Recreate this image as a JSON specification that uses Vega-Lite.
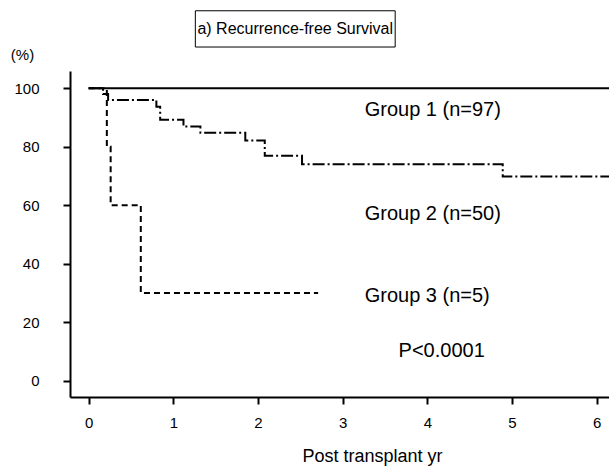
{
  "$schema": "https://vega.github.io/schema/vega-lite/v6.json",
  "width": 539,
  "height": 326,
  "autosize": "none",
  "padding": {"left": 70, "top": 71, "right": 0, "bottom": 74},
  "background": "white",
  "config": {
    "view": {"stroke": null},
    "font": "Liberation Sans",
    "axis": {"labelFont": "Liberation Sans", "titleFont": "Liberation Sans", "labelColor": "black", "titleColor": "black", "domainColor": "black", "tickColor": "black", "grid": false}
  },
  "datasets": {
    "curves": [
      {"group": "Group 1", "t": 0, "s": 100},
      {"group": "Group 1", "t": 6.145, "s": 100},
      {"group": "Group 2", "t": 0, "s": 100},
      {"group": "Group 2", "t": 0.17, "s": 98},
      {"group": "Group 2", "t": 0.23, "s": 96},
      {"group": "Group 2", "t": 0.8, "s": 93.7},
      {"group": "Group 2", "t": 0.845, "s": 89.2},
      {"group": "Group 2", "t": 1.12, "s": 86.9},
      {"group": "Group 2", "t": 1.32, "s": 84.8},
      {"group": "Group 2", "t": 1.85, "s": 82.1},
      {"group": "Group 2", "t": 2.08, "s": 76.9},
      {"group": "Group 2", "t": 2.52, "s": 74.0},
      {"group": "Group 2", "t": 4.89, "s": 69.8},
      {"group": "Group 2", "t": 6.145, "s": 69.8},
      {"group": "Group 3", "t": 0, "s": 100},
      {"group": "Group 3", "t": 0.215, "s": 80},
      {"group": "Group 3", "t": 0.26, "s": 60},
      {"group": "Group 3", "t": 0.616, "s": 30},
      {"group": "Group 3", "t": 2.71, "s": 30}
    ],
    "notes": [
      {"label": "Group 1 (n=97)", "t": 3.26, "s": 92.5},
      {"label": "Group 2 (n=50)", "t": 3.26, "s": 57},
      {"label": "Group 3 (n=5)", "t": 3.26, "s": 29},
      {"label": "P<0.0001", "t": 3.66, "s": 10}
    ],
    "titlebox": [
      {"label": "a) Recurrence-free Survival", "t1": 1.26, "t2": 3.62, "s1": 114.1, "s2": 126.5, "tm": 2.44, "sm": 120.2}
    ]
  },
  "layer": [
    {
      "data": {"name": "curves"},
      "transform": [{"filter": "datum.group === 'Group 1'"}],
      "mark": {"type": "line", "interpolate": "step-after", "color": "black", "strokeWidth": 2},
      "encoding": {
        "x": {"field": "t", "type": "quantitative", "scale": {"domain": [-0.22, 6.145], "nice": false, "zero": false},
          "axis": {"values": [0, 1, 2, 3, 4, 5, 6], "format": "d", "title": "Post transplant yr", "titleFontSize": 18, "titleFontWeight": "normal", "titleX": 302, "titleY": 59, "titleBaseline": "middle", "labelFontSize": 15, "labelPadding": 11, "tickSize": 7, "tickWidth": 2, "domainWidth": 2, "labelFlush": false}},
        "y": {"field": "s", "type": "quantitative", "scale": {"domain": [-5.6, 105.9], "nice": false, "zero": false},
          "axis": {"values": [0, 10, 20, 30, 40, 50, 60, 70, 80, 90, 100], "labelExpr": "datum.value % 20 === 0 ? datum.label : ''", "tickSize": {"condition": {"test": "datum.value % 20 === 0", "value": 7}, "value": 4}, "tickWidth": 2, "domainWidth": 2, "labelFontSize": 15, "labelPadding": 24, "labelFlush": false, "title": "(%)", "titleAngle": 0, "titleFontSize": 15, "titleFontWeight": "normal", "titleX": -48, "titleY": -17, "titleBaseline": "middle", "titleAlign": "center"}}
      }
    },
    {
      "data": {"name": "curves"},
      "transform": [{"filter": "datum.group === 'Group 2'"}],
      "mark": {"type": "line", "interpolate": "step-after", "color": "black", "strokeWidth": 2, "strokeDash": [12, 3, 2, 3]},
      "encoding": {
        "x": {"field": "t", "type": "quantitative"},
        "y": {"field": "s", "type": "quantitative"}
      }
    },
    {
      "data": {"name": "curves"},
      "transform": [{"filter": "datum.group === 'Group 3'"}],
      "mark": {"type": "line", "interpolate": "step-after", "color": "black", "strokeWidth": 2, "strokeDash": [6, 4]},
      "encoding": {
        "x": {"field": "t", "type": "quantitative"},
        "y": {"field": "s", "type": "quantitative"}
      }
    },
    {
      "data": {"name": "notes"},
      "mark": {"type": "text", "align": "left", "baseline": "middle", "fontSize": 20, "color": "black", "font": "Liberation Sans"},
      "encoding": {
        "x": {"field": "t", "type": "quantitative"},
        "y": {"field": "s", "type": "quantitative"},
        "text": {"field": "label"}
      }
    },
    {
      "data": {"name": "titlebox"},
      "mark": {"type": "rect", "fill": "white", "stroke": "black", "strokeWidth": 1, "clip": false},
      "encoding": {
        "x": {"field": "t1", "type": "quantitative"},
        "x2": {"field": "t2"},
        "y": {"field": "s1", "type": "quantitative"},
        "y2": {"field": "s2"}
      }
    },
    {
      "data": {"name": "titlebox"},
      "mark": {"type": "text", "align": "center", "baseline": "middle", "fontSize": 16, "color": "black", "font": "Liberation Sans", "clip": false},
      "encoding": {
        "x": {"field": "tm", "type": "quantitative"},
        "y": {"field": "sm", "type": "quantitative"},
        "text": {"field": "label"}
      }
    }
  ]
}
